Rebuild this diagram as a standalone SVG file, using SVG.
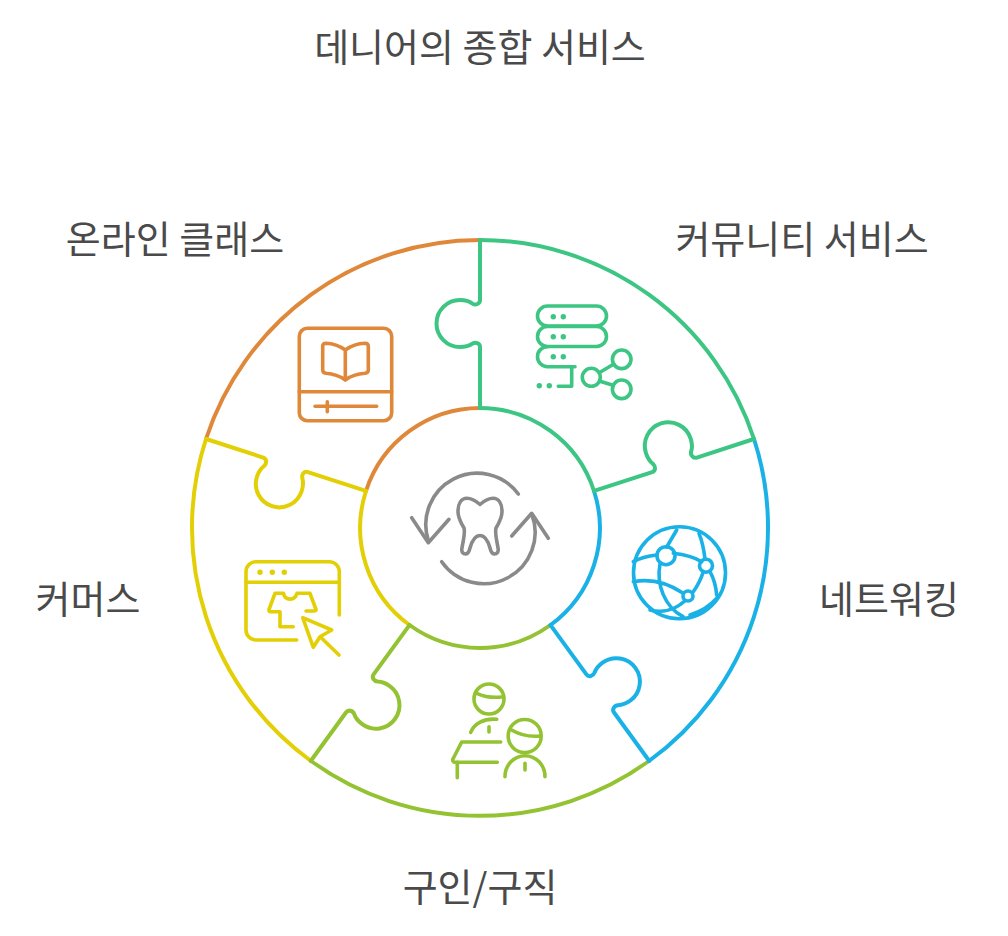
<svg xmlns="http://www.w3.org/2000/svg" width="1008" height="936" viewBox="0 0 1008 936">
<style>
text{font-family:"Noto Sans CJK KR","Noto Sans",sans-serif;font-size:38px;fill:#4A4A4A;text-anchor:middle}
path,circle,rect,line{fill:none;stroke-linecap:round;stroke-linejoin:round}
.s{stroke-width:4}
.i{stroke-width:3.6}
.orange{stroke:#E0883A}.yellow{stroke:#E3CF05}.lime{stroke:#93C232}.blue{stroke:#1AB2E6}.green{stroke:#3CC583}.gray{stroke:#8A8A8A}
</style>
<defs>
<path id="radial" d="M480 240V300C480 304 475.500 305.500 472.500 303.600C469 301 465 300 460 300A23.500 23.500 0 0 0 460 347C465 347 469 346 472.500 343.600C475.500 341.800 480 343 480 347V408"/>
</defs>
<rect width="1008" height="936" fill="#fff" style="stroke:none"/>
<g id="connectors" class="s">
<g id="seg-orange" class="orange">
<path d="M206 439A288 288 0 0 1 480 240"/>
<path d="M366 491A120 120 0 0 1 480 408"/>
</g>
<g id="seg-yellow" class="yellow">
<path d="M311 761A288 288 0 0 1 206 439"/>
<path d="M409.500 625A120 120 0 0 1 366 491"/>
<use href="#radial" transform="rotate(288 480 528)"/>
</g>
<g id="seg-lime" class="lime">
<path d="M649 761A288 288 0 0 1 311 761"/>
<path d="M550.500 625A120 120 0 0 1 409.500 625"/>
<use href="#radial" transform="rotate(216 480 528)"/>
</g>
<g id="seg-blue" class="blue">
<path d="M754 439A288 288 0 0 1 649 761"/>
<path d="M594 491A120 120 0 0 1 550.500 625"/>
<use href="#radial" transform="rotate(144 480 528)"/>
</g>
<g id="seg-green" class="green">
<path d="M480 240A288 288 0 0 1 754 439"/>
<path d="M480 408A120 120 0 0 1 594 491"/>
<use href="#radial"/>
<use href="#radial" transform="rotate(72 480 528)"/>
</g>
</g>
<g id="node-center" class="gray i">
<path d="M480 504.500C476 501 472 498.300 467 498.300C461 498.300 458 504 458 511.700C458 518 461 523 464 528C465.500 534 463 541 461.800 549C461.500 552 463 554 465.500 554C468 554 469 552 470 548C472 541 475 535.500 480 535.500C485 535.500 488 541 490 548C491 552 492 554 494.500 554C497 554 498.500 552 498.200 549C497 541 494.500 534 496 528C499 523 502 518 502 511.700C502 504 499 498.300 493 498.300C488 498.300 484 501 480 504.500Z"/>
<path d="M518.300 494A51.300 51.300 0 0 0 428.500 541"/>
<path d="M411.700 517.700L428.300 542.700L449 519.300"/>
<path d="M441.700 561.700A51.300 51.300 0 0 0 531.700 514"/>
<path d="M511.700 536L531.700 513.300L548.300 538.300"/>
</g>
<g id="node-community" class="green i">
<rect x="537.500" y="306" width="69" height="20" rx="10"/>
<rect x="537.500" y="326.500" width="69" height="20" rx="10"/>
<path d="M575 366.700H547.500A10 10 0 0 1 547.500 346.700"/>
<path d="M571.700 366.700V386.300H558.300"/>
<g style="fill:#3CC583;stroke:none">
<circle style="fill:inherit;stroke:none" cx="553.300" cy="316.700" r="2.700"/><circle style="fill:inherit;stroke:none" cx="563.300" cy="316.700" r="2.700"/>
<circle style="fill:inherit;stroke:none" cx="553.300" cy="336.700" r="2.700"/><circle style="fill:inherit;stroke:none" cx="563.300" cy="336.700" r="2.700"/>
<circle style="fill:inherit;stroke:none" cx="553.300" cy="356.700" r="2.700"/><circle style="fill:inherit;stroke:none" cx="563.300" cy="356.700" r="2.700"/>
<circle style="fill:inherit;stroke:none" cx="539.300" cy="385.700" r="2.700"/><circle style="fill:inherit;stroke:none" cx="549.300" cy="385.700" r="2.700"/>
</g>
<circle cx="591.300" cy="377.300" r="9"/>
<circle cx="621.700" cy="359.300" r="9.300"/>
<circle cx="621.700" cy="389.300" r="9.300"/>
<path d="M600 372.300L613.500 364.300M600 381.300L613 385.300"/>
</g>
<g id="node-classes" class="orange i">
<rect x="299.300" y="328.300" width="92.400" height="92.400" rx="8"/>
<path d="M299.300 391.700H391.700"/>
<path d="M315 406.300H376.700M327.300 401.700V411.700"/>
<path d="M345.300 350V380C339 375.500 333 373.800 326 373.300C323.800 373 322.700 372 322.700 370V346.500C322.700 344.500 323.800 343.300 326 343.300C333 343.500 339 345.500 345.300 350C351.500 345.500 357.500 343.500 365 343.300C367.200 343.300 368.300 344.500 368.300 346.500V370C368.300 372 367.200 373 365 373.300C357.500 373.800 351.500 375.500 345.300 380"/>
</g>
<g id="node-networking" class="blue i">
<circle cx="679.500" cy="572.700" r="46"/>
<circle cx="666" cy="555.700" r="9"/>
<circle cx="706" cy="565.700" r="6.500"/>
<circle cx="688" cy="596" r="5"/>
<path d="M676.700 530L666.700 547M633.300 561.700C640 558 648 556 656.700 555M673.300 553.300C684 554.500 694 557 701.700 561.700M699 533.300C702 541 704 550 705 559M660 564C656 585 665 607 683 616.700M703.300 571.700C701 579 698 585 693.300 591.700M710 571.700C714 579 716 587 716.700 595M633.300 581.700C650 578.500 668 583 683.300 593.300M650 610C662 613 675 610 685 600.700M690 615C700 612 710 606 716.700 598.300"/>
</g>
<g id="node-jobs" class="lime i">
<circle cx="489" cy="699" r="15"/>
<path d="M476.700 693.300C485 697 495 698 503.300 696.700"/>
<path d="M470.700 732.300C474 724 484 718 496.700 719.300"/>
<path d="M489 726.700V732"/>
<circle cx="524.700" cy="736" r="16.500"/>
<path d="M511.700 730C520 735 530 737 540 736"/>
<path d="M505 776.700A20 21 0 0 1 545 776.700"/>
<path d="M525 763.300V770"/>
<path d="M500.700 742H461.700L452.700 759.500C452.500 761 453.500 762.300 455 762.300H497.300"/>
<path d="M457.300 762.300V777.700"/>
</g>
<g id="node-commerce" class="yellow i">
<path d="M339.300 615V572A10 10 0 0 0 329.300 561.700H256A10 10 0 0 0 246 572V630A10 10 0 0 0 256 640H296.700"/>
<path d="M246 582.300H339.300"/>
<g style="fill:#E3CF05;stroke:none">
<circle style="fill:inherit;stroke:none" cx="260" cy="572.300" r="2.700"/><circle style="fill:inherit;stroke:none" cx="272.300" cy="572.300" r="2.700"/><circle style="fill:inherit;stroke:none" cx="284.300" cy="572.300" r="2.700"/>
</g>
<path d="M293.300 626.700H280V611.700H270C269 611.700 268.800 610.500 269 609.500L275 593.300H283.500C285 601 295 601 297 593.300H310L316 609.500C316.300 610.500 315.500 611 314 611H306"/>
<path d="M302.700 617.700L331.700 630L320 636.700L313.300 647.300Z"/>
<path d="M320.700 637.300L339 655"/>
</g>
<g id="labels">
<text x="480" y="61">데니어의 종합 서비스</text>
<text x="175" y="253">온라인 클래스</text>
<text x="802" y="253">커뮤니티 서비스</text>
<text x="88" y="613">커머스</text>
<text x="889" y="613">네트워킹</text>
<text x="480" y="901">구인/구직</text>
</g>
</svg>
